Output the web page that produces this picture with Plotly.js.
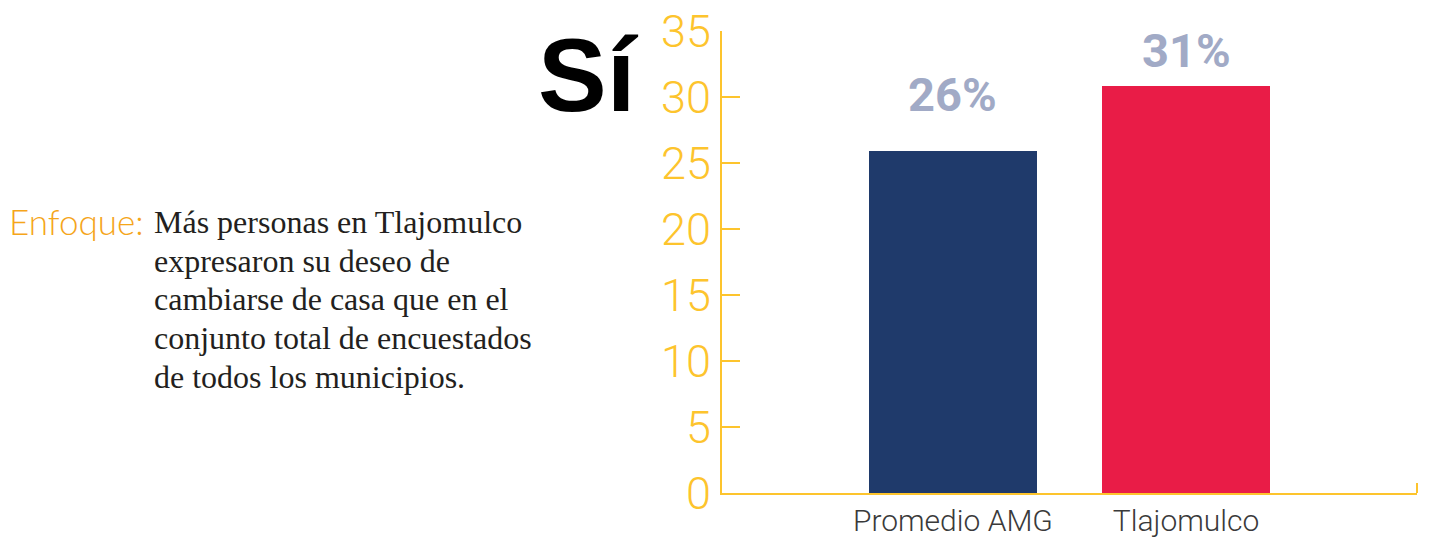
<!DOCTYPE html>
<html>
<head>
<meta charset="utf-8">
<script src="https://cdn.plot.ly/plotly-3.0.1.min.js"></script>
<style>
  html, body { margin: 0; padding: 0; background: #fff; }
  #chart { width: 1429px; height: 538px; }
</style>
</head>
<body>
<div id="chart"></div>
<script>
// data
const categories = ['Promedio AMG', 'Tlajomulco'];
const values = [25.9, 30.8];
const barColors = ['#1F3A6B', '#E91C47'];
const yTicks = [0, 5, 10, 15, 20, 25, 30, 35];

const headline = 'Sí';
const focusLabel = 'Enfoque:';
const focusLines = [
  'Más personas en Tlajomulco',
  'expresaron su deseo de',
  'cambiarse de casa que en el',
  'conjunto total de encuestados',
  'de todos los municipios.'
];

// page geometry
const W = 1429, H = 538;
const M = { l: 722, r: 12, t: 31, b: 45 };
const PX = x => (x - M.l) / (W - M.l - M.r);
const PY = y => (H - M.b - y) / (H - M.t - M.b);

const yellow = '#FDC42D';
const labelShift = [57, 36]; // value labels sit at different heights

const trace = {
  type: 'bar',
  x: categories,
  y: values,
  width: 0.72,
  marker: { color: barColors },
  hoverinfo: 'skip'
};

const valueLabels = categories.map((c, i) => ({
  x: c, y: values[i], xref: 'x', yref: 'y',
  text: Math.round(values[i]) + '%',
  showarrow: false,
  yanchor: 'middle',
  yshift: labelShift[i],
  font: { family: 'Roboto, sans-serif', size: 47, weight: 700, color: '#A1AAC6' }
}));

// body text, one annotation per line so the line pitch can be set
const bodyLines = focusLines.map((line, i) => ({
  xref: 'paper', yref: 'paper', x: PX(152), y: PY(222 + i * 38.7),
  xanchor: 'left', yanchor: 'middle', align: 'left',
  text: line, showarrow: false,
  font: { family: 'Liberation Serif, Times New Roman, serif', size: 32, color: '#231F20' }
}));

const layout = {
  width: W, height: H,
  margin: M,
  paper_bgcolor: '#fff',
  plot_bgcolor: '#fff',
  showlegend: false,
  bargap: 0,
  xaxis: {
    type: 'category',
    range: [-0.99, 1.99],
    showline: true, linecolor: yellow, linewidth: 2,
    ticks: '', showgrid: false, zeroline: false,
    tickfont: { family: 'Roboto, sans-serif', size: 30, weight: 300, color: '#3a3a3a' },
    ticklabelstandoff: 0,
    fixedrange: true
  },
  yaxis: {
    range: [0, 35],
    tickvals: yTicks,
    showline: true, linecolor: yellow, linewidth: 2,
    ticks: 'inside', ticklen: 18, tickwidth: 2, tickcolor: yellow,
    showgrid: false, zeroline: false,
    tickfont: { family: 'Roboto, sans-serif', size: 45, weight: 300, color: yellow },
    ticklabelstandoff: 0,
    fixedrange: true
  },
  shapes: [{
    type: 'line', xref: 'paper', yref: 'paper',
    x0: 1, x1: 1, y0: 0, y1: PY(483),
    line: { color: yellow, width: 2 }
  }],
  annotations: [
    ...valueLabels,
    {
      xref: 'paper', yref: 'paper', x: PX(536), y: PY(76),
      xanchor: 'left', yanchor: 'middle',
      text: headline, showarrow: false,
      font: { family: 'Liberation Sans, Arial, sans-serif', size: 103, weight: 700, color: '#000' }
    },
    {
      xref: 'paper', yref: 'paper', x: PX(7), y: PY(221),
      xanchor: 'left', yanchor: 'middle',
      text: focusLabel, showarrow: false,
      font: { family: 'Lato, Roboto, sans-serif', size: 35, weight: 300, color: '#F5A51A' }
    },
    ...bodyLines
  ]
};

Plotly.newPlot('chart', [trace], layout, { displayModeBar: false, staticPlot: true });
</script>
</body>
</html>
